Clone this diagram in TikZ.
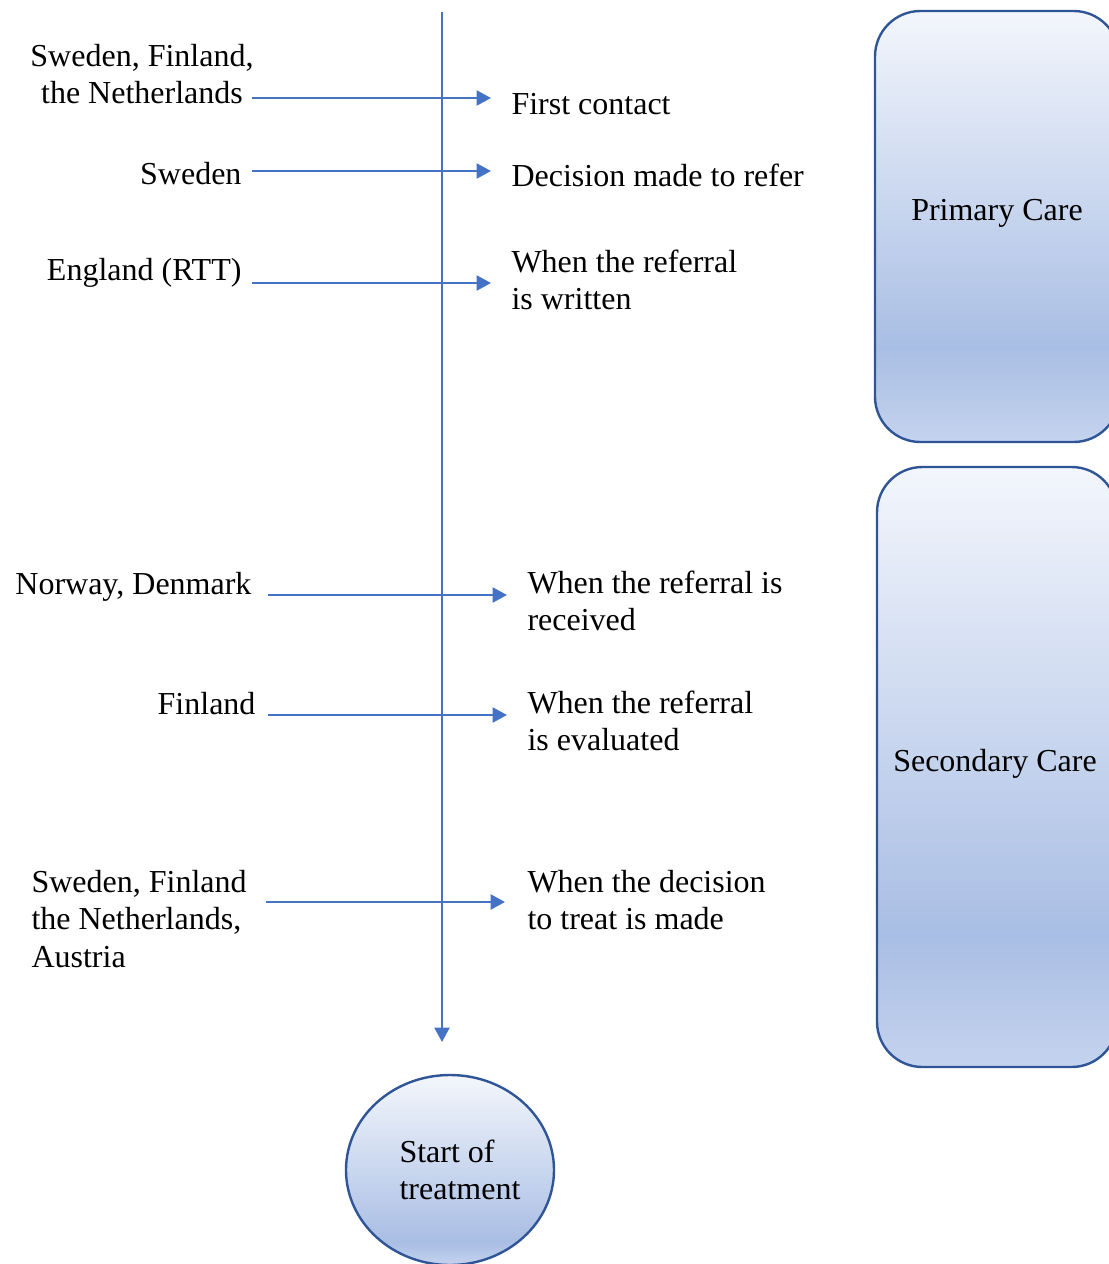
\documentclass[tikz,border=0pt]{standalone}
\usepackage{fontspec}
\setmainfont{Liberation Serif}
\usetikzlibrary{arrows.meta,shapes.geometric}
\definecolor{arrowblue}{HTML}{4472C4}
\definecolor{edgeblue}{HTML}{2F5597}
\definecolor{shtop}{HTML}{F3F6FC}
\definecolor{shmid}{HTML}{A9BEE4}
\definecolor{shbot}{HTML}{C4D3EE}
\pgfdeclareverticalshading{careshade}{100bp}{color(0bp)=(shbot); color(25bp)=(shbot); color(36bp)=(shmid); color(75bp)=(shtop); color(100bp)=(shtop)}
\pgfdeclareverticalshading{circshade}{100bp}{color(0bp)=(shbot); color(25bp)=(shbot); color(31bp)=(shmid); color(75bp)=(shtop); color(100bp)=(shtop)}
\newcommand\pxu{0.375pt}
\begin{document}
\begin{tikzpicture}[x=0.375pt,y=-0.375pt,
  every node/.style={font=\fontsize{12}{14.1}\selectfont, inner sep=0pt},
  conn/.style={draw=arrowblue, line width=0.95pt, -{Triangle[length=5.4pt,width=5.6pt]}},
  carebox/.style={draw=edgeblue, line width=0.9pt, rectangle, rounded corners=17pt, shading=careshade},
  startell/.style={draw=edgeblue, line width=0.9pt, ellipse, shading=circshade}]
\useasboundingbox (0,0) rectangle (1109,1264);
\clip (0,0) rectangle (1109,1264);

% care boxes
\node[carebox, minimum width=244*\pxu, minimum height=431*\pxu] (primary) at (997,226.5) {};
\node[carebox, minimum width=240*\pxu, minimum height=600*\pxu] (secondary) at (997,767) {};
\node[anchor=base] (primarytxt) at (997,220) {Primary Care};
\node[anchor=base] (secondarytxt) at (995,771) {Secondary Care};

% start of treatment
\node[startell, minimum width=208*\pxu, minimum height=190*\pxu] (start) at (450,1170) {};
\node[anchor=base west] (starttxt) at (399,1162) {\begin{tabular}[t]{@{}l@{}}Start of\\treatment\end{tabular}};

% timeline
\coordinate (vtop) at (442,12);
\coordinate (vbot) at (442,1042);
\draw[conn] (vtop) -- (vbot);

% left labels
\node[anchor=base] (l1) at (142,66) {\begin{tabular}[t]{@{}c@{}}Sweden, Finland,\\the Netherlands\end{tabular}};
\node[anchor=base east] (l2) at (242,184) {Sweden};
\node[anchor=base east] (l3) at (242,280) {England (RTT)};
\node[anchor=base east] (l4) at (252,594) {Norway, Denmark};
\node[anchor=base east] (l5) at (256,714) {Finland};
\node[anchor=base west] (l6) at (31,892) {\begin{tabular}[t]{@{}l@{}}Sweden, Finland\\the Netherlands,\\Austria\end{tabular}};

% right labels
\node[anchor=base west] (r1) at (511,114) {First contact};
\node[anchor=base west] (r2) at (511,186) {Decision made to refer};
\node[anchor=base west] (r3) at (511,272) {\begin{tabular}[t]{@{}l@{}}When the referral\\is written\end{tabular}};
\node[anchor=base west] (r4) at (527,593) {\begin{tabular}[t]{@{}l@{}}When the referral is\\received\end{tabular}};
\node[anchor=base west] (r5) at (527,713) {\begin{tabular}[t]{@{}l@{}}When the referral\\is evaluated\end{tabular}};
\node[anchor=base west] (r6) at (527,892) {\begin{tabular}[t]{@{}l@{}}When the decision\\to treat is made\end{tabular}};

% arrow end points
\coordinate (a1s) at (252,98);  \coordinate (a1e) at (491,98);
\coordinate (a2s) at (252,171); \coordinate (a2e) at (491,171);
\coordinate (a3s) at (252,283); \coordinate (a3e) at (491,283);
\coordinate (a4s) at (268,595); \coordinate (a4e) at (507,595);
\coordinate (a5s) at (268,715); \coordinate (a5e) at (507,715);
\coordinate (a6s) at (266,902); \coordinate (a6e) at (505,902);
\foreach \i in {1,...,6} {\draw[conn] (a\i s) -- (a\i e);}
\end{tikzpicture}
\end{document}
